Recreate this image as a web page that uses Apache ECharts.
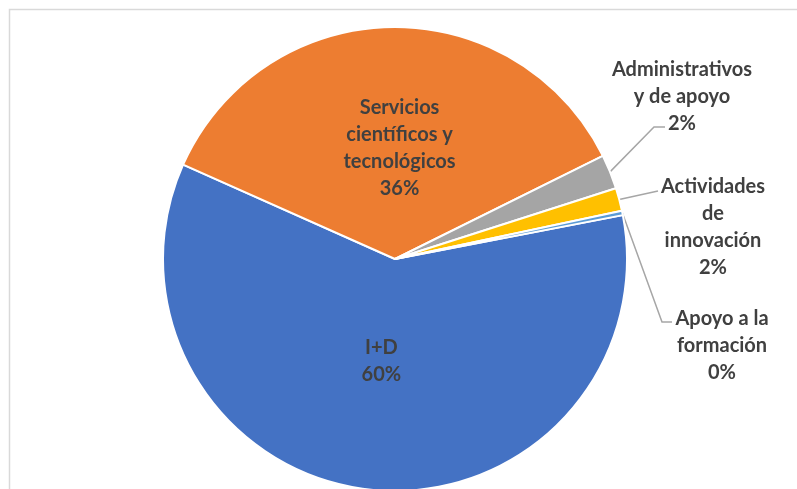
<!DOCTYPE html>
<html>
<head>
<meta charset="utf-8">
<script src="https://cdn.jsdelivr.net/npm/echarts@6/dist/echarts.min.js"></script>
<style>
    html, body { margin: 0; padding: 0; background: #fff; }
    #chart_01 { width: 797px; height: 489px; }
</style>
</head>
<body>
<div id="chart_01"></div>
<script>
// categories (with the line breaks used in the labels) and shares in %
var categories = ['I+D', 'Servicios\ncientíficos y\ntecnológicos', 'Administrativos\ny de apoyo', 'Actividades\nde\ninnovación', 'Apoyo a la\nformación'];
var shares = [59.7, 36.0, 2.4, 1.6, 0.3];
var colors = ['#4472C4', '#ED7D31', '#A5A5A5', '#FFC000', '#5B9BD5'];

// where the labels sit, and the leader line bends
var labelSpots = {
    0: { dx: 0, dy: -16 },
    1: { dx: 7, dy: 8 },
    2: { x: 682, y: 97, line: [[654, 127], [665, 127]] },
    3: { x: 713, y: 227, line: [[658, 191]] },
    4: { x: 722, y: 346, line: [[662, 322], [672, 322]] }
};

var myChart = echarts.init(document.getElementById('chart_01'));

var data = categories.map(function (c, i) {
    return {
        name: c,
        value: shares[i],
        itemStyle: { color: colors[i] },
        label: { position: i < 2 ? 'inside' : 'outside' },
        labelLine: { show: i >= 2 }
    };
});

var option = {
    animation: false,
    graphic: [{
        type: 'rect',
        shape: { x: 9.5, y: 9.5, width: 820, height: 520 },
        style: { fill: 'none', stroke: '#d9d9d9', lineWidth: 1.5 },
        silent: true
    }],
    series: [{
        type: 'pie',
        center: [395, 259],
        radius: 232,
        startAngle: 10.9,
        clockwise: true,
        avoidLabelOverlap: false,
        emphasis: { disabled: true },
        itemStyle: { borderColor: '#fff', borderWidth: 2 },
        label: {
            formatter: function (p) {
                return p.name + '\n' + Math.round(p.percent) + '%';
            },
            color: '#404040',
            fontFamily: 'Lato',
            fontWeight: 'bold',
            fontSize: 20,
            lineHeight: 27,
            align: 'center'
        },
        labelLine: {
            lineStyle: { color: '#A6A6A6', width: 1.5 },
            length: 40,
            length2: 10
        },
        labelLayout: function (p) {
            var s = labelSpots[p.dataIndex];
            if (!s) return {};
            if (!s.line) return { dx: s.dx, dy: s.dy };
            var pts = [p.labelLinePoints[0]].concat(s.line);
            return {
                x: s.x,
                y: s.y,
                align: 'center',
                verticalAlign: 'middle',
                labelLinePoints: pts
            };
        },
        data: data
    }]
};

myChart.setOption(option);
window.addEventListener('resize', function () {
    myChart.resize();
});
</script>
</body>
</html>
